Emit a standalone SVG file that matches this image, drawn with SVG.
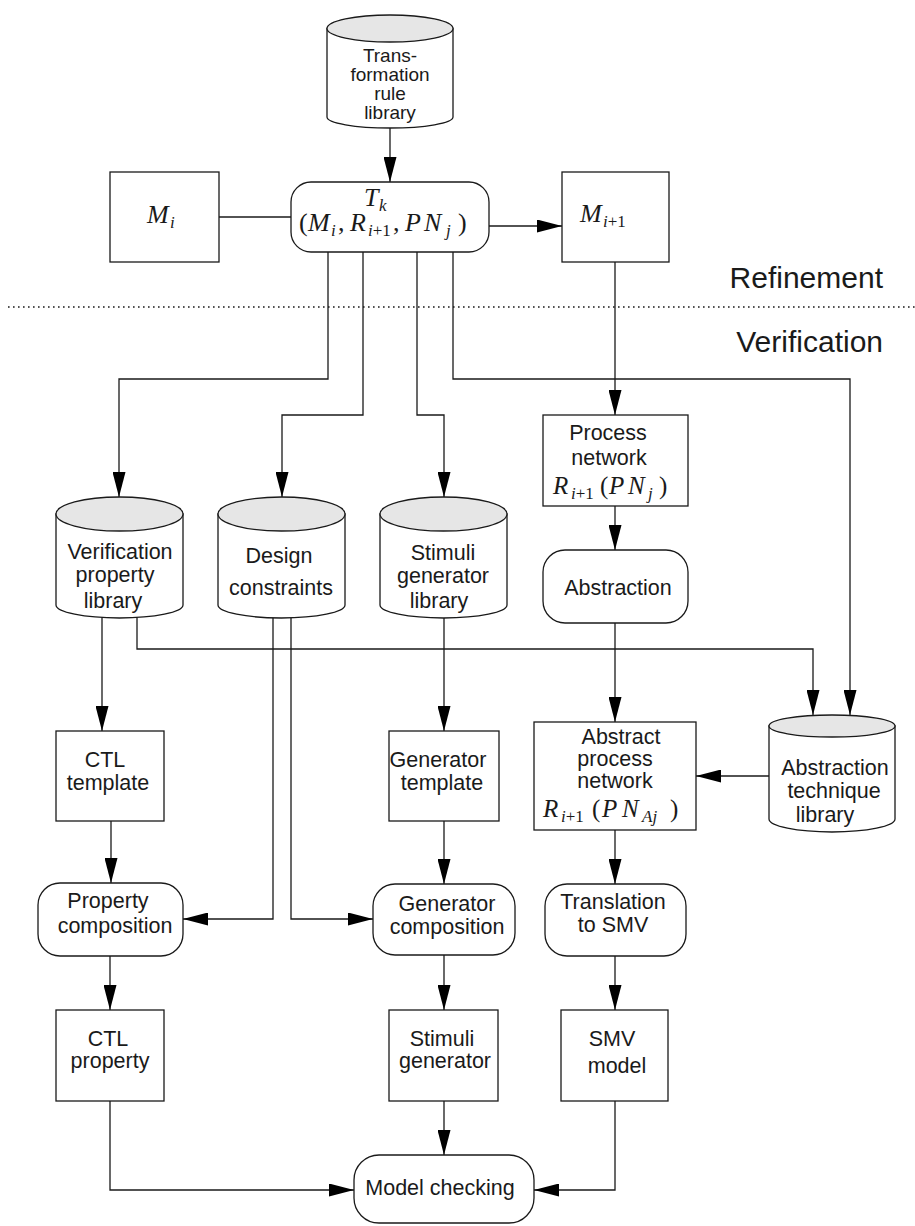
<svg xmlns="http://www.w3.org/2000/svg" width="915" height="1226" viewBox="0 0 915 1226">
  <defs>
    <style>
      .ln { fill: none; stroke: #1a1a1a; stroke-width: 1.3; }
      .nd { fill: #ffffff; stroke: #1a1a1a; stroke-width: 1.3; }
      .cap { fill: #e6e6e6; stroke: #1a1a1a; stroke-width: 1.3; }
      .t { font-family: "Liberation Sans", Arial, sans-serif; font-size: 21.5px; fill: #1a1a1a; text-anchor: middle; }
      .tsm { font-size: 19px; }
      .lbl { font-family: "Liberation Sans", Arial, sans-serif; font-size: 30px; fill: #1a1a1a; text-anchor: end; }
      .m { font-family: "Liberation Serif", "Times New Roman", serif; font-size: 25px; font-style: italic; fill: #1a1a1a; }
      .mb { font-size: 26px; }
      .u { font-style: normal; }
      .s { font-size: 17px; }
    </style>
    <marker id="ah" markerUnits="userSpaceOnUse" markerWidth="25" markerHeight="13" refX="25" refY="6.5" orient="auto">
      <path d="M0,0 L25,6.5 L0,13 z" fill="#000"/>
    </marker>
  </defs>

  <rect width="915" height="1226" fill="#ffffff"/>

  <!-- section divider and labels -->
  <line x1="8" y1="307" x2="915" y2="307" stroke="#1a1a1a" stroke-width="1.6" stroke-dasharray="1.6 3.4"/>
  <text class="lbl" x="883" y="288">Refinement</text>
  <text class="lbl" x="883" y="352">Verification</text>

  <!-- connectors -->
  <g id="connectors">
    <path class="ln" d="M390,128 V182" marker-end="url(#ah)"/>
    <path class="ln" d="M219,217 H291"/>
    <path class="ln" d="M489,226 H562" marker-end="url(#ah)"/>
    <path class="ln" d="M328,252 V379 H119 V497" marker-end="url(#ah)"/>
    <path class="ln" d="M363,252 V415 H282 V497" marker-end="url(#ah)"/>
    <path class="ln" d="M417,252 V415 H444 V497" marker-end="url(#ah)"/>
    <path class="ln" d="M453,252 V379 H850 V715" marker-end="url(#ah)"/>
    <path class="ln" d="M615,262 V415" marker-end="url(#ah)"/>
    <path class="ln" d="M615,506 V550" marker-end="url(#ah)"/>
    <path class="ln" d="M615,623 V722" marker-end="url(#ah)"/>
    <path class="ln" d="M137,612 V649 H813 V715" marker-end="url(#ah)"/>
    <path class="ln" d="M769,776 H696" marker-end="url(#ah)"/>
    <path class="ln" d="M102,612 V731" marker-end="url(#ah)"/>
    <path class="ln" d="M273,612 V919 H183" marker-end="url(#ah)"/>
    <path class="ln" d="M291,612 V919 H373" marker-end="url(#ah)"/>
    <path class="ln" d="M444,612 V731" marker-end="url(#ah)"/>
    <path class="ln" d="M111,821 V883" marker-end="url(#ah)"/>
    <path class="ln" d="M444,821 V884" marker-end="url(#ah)"/>
    <path class="ln" d="M615,830 V884" marker-end="url(#ah)"/>
    <path class="ln" d="M110,956 V1010" marker-end="url(#ah)"/>
    <path class="ln" d="M444,955 V1010" marker-end="url(#ah)"/>
    <path class="ln" d="M615,956 V1010" marker-end="url(#ah)"/>
    <path class="ln" d="M110,1101 V1190 H354" marker-end="url(#ah)"/>
    <path class="ln" d="M444,1101 V1155" marker-end="url(#ah)"/>
    <path class="ln" d="M615,1101 V1190 H534" marker-end="url(#ah)"/>
  </g>

  <!-- transformation rule library -->
  <g id="rule-library">
    <path class="nd" d="M327,28.5 V117 A63,11 0 0,0 453,117 V28.5 Z"/>
    <ellipse class="cap" cx="390" cy="28.5" rx="63" ry="13.5"/>
    <text class="t tsm" x="390" y="62">Trans-</text>
    <text class="t tsm" x="390" y="81">formation</text>
    <text class="t tsm" x="390" y="100">rule</text>
    <text class="t tsm" x="390" y="119">library</text>
  </g>

  <g id="model-i">
    <rect class="nd" x="110" y="172" width="109" height="90"/>
    <text class="m mb" y="223"><tspan x="147">M</tspan><tspan class="s" x="170" y="228">i</tspan></text>
  </g>

  <g id="transformation">
    <rect class="nd" x="291" y="182" width="198" height="70" rx="20"/>
    <text class="m mb" y="206"><tspan x="364">T</tspan><tspan class="s" x="379" y="211">k</tspan></text>
    <text class="m mb" y="231"><tspan class="u" x="299">(</tspan><tspan x="308">M</tspan><tspan class="s" x="331" y="236">i</tspan><tspan class="u" x="338" y="231">,</tspan><tspan x="350">R</tspan><tspan class="s" x="368" y="236">i<tspan class="u">+1</tspan></tspan><tspan class="u" x="393" y="231">,</tspan><tspan x="405">P</tspan><tspan x="424">N</tspan><tspan class="s" x="446" y="236">j</tspan><tspan class="u" x="458" y="231">)</tspan></text>
  </g>

  <g id="model-i1">
    <rect class="nd" x="562" y="172" width="107" height="90"/>
    <text class="m mb" y="222"><tspan x="580">M</tspan><tspan class="s" x="603" y="227">i<tspan class="u">+1</tspan></tspan></text>
  </g>

  <g id="process-network">
    <rect class="nd" x="543" y="415" width="145" height="91"/>
    <text class="t" x="608" y="440">Process</text>
    <text class="t" x="609" y="465">network</text>
    <text class="m" y="494"><tspan x="553">R</tspan><tspan class="s" x="571" y="499">i<tspan class="u">+1</tspan></tspan><tspan class="u" x="600" y="494">(</tspan><tspan x="609">P</tspan><tspan x="628">N</tspan><tspan class="s" x="648" y="499">j</tspan><tspan class="u" x="659" y="494">)</tspan></text>
  </g>

  <g id="abstraction">
    <rect class="nd" x="543" y="550" width="145" height="73" rx="22"/>
    <text class="t" x="618" y="595">Abstraction</text>
  </g>

  <g id="verification-property-library">
    <path class="nd" d="M56,514 V605 A63.5,13 0 0,0 183,605 V514 Z"/>
    <ellipse class="cap" cx="119.5" cy="514" rx="63.5" ry="17"/>
    <text class="t" x="120" y="559">Verification</text>
    <text class="t" x="115" y="582">property</text>
    <text class="t" x="113" y="608">library</text>
  </g>

  <g id="design-constraints">
    <path class="nd" d="M218,514 V605 A63.5,13 0 0,0 345,605 V514 Z"/>
    <ellipse class="cap" cx="281.5" cy="514" rx="63.5" ry="17"/>
    <text class="t" x="279" y="563">Design</text>
    <text class="t" x="281" y="595">constraints</text>
  </g>

  <g id="stimuli-generator-library">
    <path class="nd" d="M380,514 V605 A63.5,13 0 0,0 507,605 V514 Z"/>
    <ellipse class="cap" cx="443.5" cy="514" rx="63.5" ry="17"/>
    <text class="t" x="443" y="560">Stimuli</text>
    <text class="t" x="443" y="583">generator</text>
    <text class="t" x="439" y="608">library</text>
  </g>

  <g id="abstraction-technique-library">
    <path class="nd" d="M769,726 V819 A63,13 0 0,0 895,819 V726 Z"/>
    <ellipse class="cap" cx="832" cy="726" rx="63" ry="11"/>
    <text class="t" x="835" y="775">Abstraction</text>
    <text class="t" x="834" y="798">technique</text>
    <text class="t" x="825" y="822">library</text>
  </g>

  <g id="ctl-template">
    <rect class="nd" x="56" y="731" width="108" height="90"/>
    <text class="t" x="105" y="767">CTL</text>
    <text class="t" x="108" y="790">template</text>
  </g>

  <g id="generator-template">
    <rect class="nd" x="389" y="731" width="110" height="90"/>
    <text class="t" x="438" y="767">Generator</text>
    <text class="t" x="442" y="790">template</text>
  </g>

  <g id="abstract-process-network">
    <rect class="nd" x="534" y="722" width="162" height="108"/>
    <text class="t" x="621" y="744">Abstract</text>
    <text class="t" x="615" y="766">process</text>
    <text class="t" x="615" y="788">network</text>
    <text class="m" y="817"><tspan x="543">R</tspan><tspan class="s" x="561" y="822">i<tspan class="u">+1</tspan></tspan><tspan class="u" x="592" y="817">(</tspan><tspan x="602">P</tspan><tspan x="622">N</tspan><tspan class="s" x="642" y="822">Aj</tspan><tspan class="u" x="670" y="817">)</tspan></text>
  </g>

  <g id="property-composition">
    <rect class="nd" x="38" y="883" width="145" height="73" rx="22"/>
    <text class="t" x="108" y="908">Property</text>
    <text class="t" x="115" y="933">composition</text>
  </g>

  <g id="generator-composition">
    <rect class="nd" x="373" y="884" width="142" height="71" rx="22"/>
    <text class="t" x="447" y="911">Generator</text>
    <text class="t" x="447" y="934">composition</text>
  </g>

  <g id="translation">
    <rect class="nd" x="545" y="884" width="141" height="72" rx="22"/>
    <text class="t" x="613" y="909">Translation</text>
    <text class="t" x="613" y="932">to SMV</text>
  </g>

  <g id="ctl-property">
    <rect class="nd" x="56" y="1010" width="108" height="91"/>
    <text class="t" x="108" y="1046">CTL</text>
    <text class="t" x="110" y="1068">property</text>
  </g>

  <g id="stimuli-generator">
    <rect class="nd" x="389" y="1010" width="109" height="91"/>
    <text class="t" x="442" y="1046">Stimuli</text>
    <text class="t" x="445" y="1068">generator</text>
  </g>

  <g id="smv-model">
    <rect class="nd" x="561" y="1010" width="107" height="91"/>
    <text class="t" x="612" y="1046">SMV</text>
    <text class="t" x="617" y="1073">model</text>
  </g>

  <g id="model-checking">
    <rect class="nd" x="354" y="1155" width="180" height="68" rx="25"/>
    <text class="t" x="440" y="1195">Model checking</text>
  </g>
</svg>
